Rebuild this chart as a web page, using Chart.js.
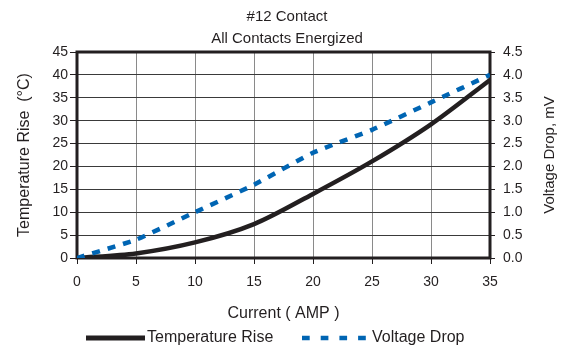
<!DOCTYPE html>
<html><head><meta charset="utf-8">
<script src="https://cdn.jsdelivr.net/npm/chart.js@4/dist/chart.umd.min.js"></script>
<style>html,body{margin:0;padding:0;background:#fff}#wrap{width:574px;height:348px}</style>
</head><body><div id="wrap"><canvas id="c" width="574" height="348"></canvas></div>
<script>
const currents = [0, 5, 10, 15, 20, 25, 30, 35];
const temperatureRise = [0, 1.0, 3.4, 7.4, 14.0, 21.1, 29.2, 38.9];
const voltageDrop = [0, 0.4, 1.0, 1.6, 2.3, 2.8, 3.4, 4.0];
const titleLines = ['#12 Contact', 'All Contacts Energized'];
const seriesNames = ['Temperature Rise', 'Voltage Drop'];
const xTitle = 'Current ( AMP )';
const yTitle = 'Temperature Rise  (°C)';
const y2Title = 'Voltage Drop, mV';

const FONT = '"Liberation Sans", Arial, sans-serif';
const INK = '#231f20';
Chart.defaults.font.family = FONT;
Chart.defaults.color = INK;

const frame = {
  id: 'frame',
  beforeDatasetsDraw(chart) {
    const {ctx, chartArea: a} = chart;
    ctx.save();
    ctx.strokeStyle = INK;
    ctx.lineWidth = 3;
    ctx.strokeRect(a.left, a.top, a.right - a.left, a.bottom - a.top);
    ctx.restore();
  },
  afterDraw(chart) {
    const {ctx, chartArea: a} = chart;
    const ds = chart.data.datasets;
    ctx.save();
    // right axis title, reading bottom to top
    ctx.font = '15px ' + FONT;
    ctx.fillStyle = INK;
    ctx.textAlign = 'center';
    ctx.textBaseline = 'middle';
    ctx.translate(550, (a.top + a.bottom) / 2);
    ctx.rotate(-Math.PI / 2);
    ctx.fillText(y2Title, 0, 0);
    ctx.restore();
    // legend
    ctx.save();
    const ly = 338;
    ctx.font = '16px ' + FONT;
    ctx.fillStyle = INK;
    ctx.textAlign = 'left';
    ctx.textBaseline = 'middle';
    ctx.lineCap = 'butt';
    ctx.strokeStyle = ds[0].borderColor;
    ctx.lineWidth = 5;
    ctx.setLineDash([]);
    ctx.beginPath(); ctx.moveTo(86, ly); ctx.lineTo(145, ly); ctx.stroke();
    ctx.fillText(ds[0].label, 147, ly);
    ctx.strokeStyle = ds[1].borderColor;
    ctx.lineWidth = 4.5;
    ctx.setLineDash([7.7, 11]);
    ctx.beginPath(); ctx.moveTo(302, ly); ctx.lineTo(366, ly); ctx.stroke();
    ctx.setLineDash([]);
    ctx.fillText(ds[1].label, 372, ly);
    ctx.restore();
  }
};

new Chart(document.getElementById('c'), {
  type: 'line',
  data: {
    datasets: [
      {
        label: seriesNames[0],
        data: currents.map((x, i) => ({x, y: temperatureRise[i]})),
        borderColor: INK,
        borderWidth: 4.5,
        pointRadius: 0,
        tension: 0.3,
        yAxisID: 'y',
        order: 2
      },
      {
        label: seriesNames[1],
        data: currents.map((x, i) => ({x, y: voltageDrop[i]})),
        borderColor: '#0065b3',
        borderWidth: 4.5,
        borderDash: [8, 8],
        borderCapStyle: 'butt',
        pointRadius: 0,
        tension: 0.15,
        yAxisID: 'y2',
        order: 1
      }
    ]
  },
  options: {
    responsive: false,
    animation: false,
    devicePixelRatio: 1,
    layout: {padding: {left: 0, right: 0, top: 0, bottom: 25}},
    plugins: {
      legend: {display: false},
      tooltip: {enabled: false},
      title: {
        display: true,
        text: titleLines,
        color: INK,
        font: {size: 15, weight: 'normal', lineHeight: 1.4667},
        padding: {top: 6, bottom: 2}
      }
    },
    scales: {
      x: {
        type: 'linear',
        min: 0, max: 35,
        ticks: {stepSize: 5, color: INK, font: {size: 14}, padding: 10},
        grid: {color: '#8a8a8a', lineWidth: 1, tickColor: INK, tickLength: 6},
        border: {display: false},
        title: {display: true, text: xTitle, color: INK, font: {size: 16}, padding: {top: 0, bottom: 0}},
        afterFit(s) { s.height = 65; }
      },
      y: {
        position: 'left',
        min: 0, max: 45,
        ticks: {stepSize: 5, color: INK, font: {size: 14}, padding: 2},
        grid: {color: '#3a3a3a', lineWidth: 1, tickColor: INK, tickLength: 7},
        border: {display: false},
        title: {display: true, text: yTitle, color: INK, font: {size: 16}, padding: {top: 15, bottom: 0}},
        afterFit(s) { s.width = 77; }
      },
      y2: {
        position: 'right',
        min: 0, max: 4.5,
        ticks: {stepSize: 0.5, color: INK, font: {size: 14}, padding: 8, callback: v => Number(v).toFixed(1)},
        grid: {drawOnChartArea: false, tickColor: INK, tickLength: 5},
        border: {display: false},
        afterFit(s) { s.width = 84; }
      }
    }
  },
  plugins: [frame]
});
</script>
</body></html>
